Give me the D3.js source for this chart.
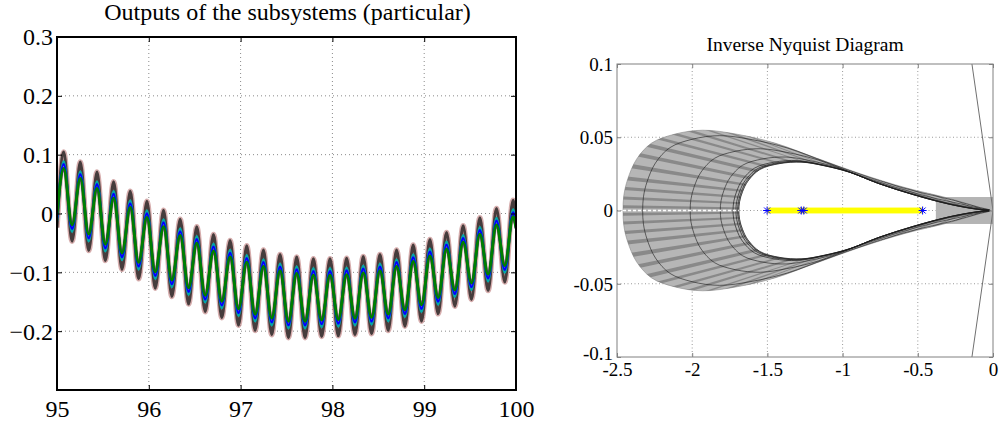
<!DOCTYPE html>
<html><head><meta charset="utf-8">
<script src="https://cdn.jsdelivr.net/npm/d3@7"></script>
<style>
body{margin:0;background:#fff}
svg{display:block}
text{font-family:'Liberation Serif','DejaVu Serif',serif;fill:#000}
</style>
</head><body>
<svg id="c" width="999" height="425"></svg>
<script>
// ---------------- LEFT CHART DATA ----------------
const leftTitle = "Outputs of the subsystems (particular)";
const leftXTicks = [95, 96, 97, 98, 99, 100];
const leftXLabels = ["95", "96", "97", "98", "99", "100"];
const leftYTicks = [0.3, 0.2, 0.1, 0, -0.1, -0.2];
const leftYLabels = ["0.3", "0.2", "0.1", "0", "\u22120.1", "\u22120.2"];

// times: start, the 55 successive peaks/troughs, end
const tVals = [95,
  95.073, 95.164, 95.254, 95.345, 95.436, 95.526, 95.617, 95.708, 95.798, 95.889,
  95.980, 96.070, 96.161, 96.251, 96.342, 96.433, 96.523, 96.614, 96.705, 96.795,
  96.886, 96.977, 97.067, 97.158, 97.249, 97.339, 97.430, 97.521, 97.611, 97.702,
  97.793, 97.883, 97.974, 98.064, 98.155, 98.246, 98.336, 98.427, 98.518, 98.608,
  98.699, 98.790, 98.880, 98.971, 99.062, 99.152, 99.243, 99.334, 99.424, 99.515,
  99.606, 99.696, 99.787, 99.878, 99.968,
  100];

const seriesDark = [-0.024,
  0.1045, -0.047, 0.0876, -0.063, 0.0706, -0.080, 0.054, -0.095, 0.038, -0.111,
  0.021, -0.127, 0.0056, -0.141, -0.0096, -0.154, -0.0226, -0.167, -0.0356, -0.177,
  -0.046, -0.190, -0.055, -0.199, -0.062, -0.206, -0.0695, -0.211, -0.074, -0.211,
  -0.077, -0.209, -0.077, -0.208, -0.076, -0.206, -0.073, -0.2045, -0.0695, -0.199,
  -0.062, -0.1915, -0.0537, -0.183, -0.0441, -0.1706, -0.0322, -0.1576, -0.0209, -0.146,
  -0.0073, -0.131, 0.0085, -0.1164, 0.0226,
  -0.016];

const seriesCyan = [-0.013,
  0.0885, -0.031, 0.0716, -0.047, 0.0546, -0.064, 0.038, -0.079, 0.022, -0.095,
  0.005, -0.111, -0.0104, -0.125, -0.0256, -0.138, -0.0386, -0.151, -0.0516, -0.161,
  -0.062, -0.174, -0.071, -0.183, -0.078, -0.190, -0.0855, -0.195, -0.090, -0.195,
  -0.093, -0.193, -0.093, -0.192, -0.092, -0.190, -0.089, -0.1885, -0.0855, -0.183,
  -0.078, -0.1755, -0.0697, -0.167, -0.0601, -0.1546, -0.0482, -0.1416, -0.0369, -0.130,
  -0.0233, -0.115, -0.0075, -0.1004, 0.0066,
  -0.020];

const seriesBlue = [-0.008,
  0.0835, -0.026, 0.0666, -0.042, 0.0496, -0.059, 0.033, -0.074, 0.017, -0.090,
  0.000, -0.106, -0.0154, -0.120, -0.0306, -0.133, -0.0436, -0.146, -0.0566, -0.156,
  -0.067, -0.169, -0.076, -0.178, -0.083, -0.185, -0.0905, -0.190, -0.095, -0.190,
  -0.098, -0.188, -0.098, -0.187, -0.097, -0.185, -0.094, -0.1835, -0.0905, -0.178,
  -0.083, -0.1705, -0.0747, -0.162, -0.0651, -0.1496, -0.0532, -0.1366, -0.0419, -0.125,
  -0.0283, -0.110, -0.0125, -0.0954, 0.0016,
  -0.022];

const seriesMagenta = [0.001,
  0.0725, -0.015, 0.0556, -0.031, 0.0386, -0.048, 0.022, -0.063, 0.006, -0.079,
  -0.011, -0.095, -0.0264, -0.109, -0.0416, -0.122, -0.0546, -0.135, -0.0676, -0.145,
  -0.078, -0.158, -0.087, -0.167, -0.094, -0.174, -0.1015, -0.179, -0.106, -0.179,
  -0.109, -0.177, -0.109, -0.176, -0.108, -0.174, -0.105, -0.1725, -0.1015, -0.167,
  -0.094, -0.1595, -0.0857, -0.151, -0.0761, -0.1386, -0.0642, -0.1256, -0.0529, -0.114,
  -0.0393, -0.099, -0.0235, -0.0844, -0.0094,
  -0.027];

const seriesGreen = [-0.002,
  0.0765, -0.019, 0.0596, -0.035, 0.0426, -0.052, 0.026, -0.067, 0.010, -0.083,
  -0.007, -0.099, -0.0224, -0.113, -0.0376, -0.126, -0.0506, -0.139, -0.0636, -0.149,
  -0.074, -0.162, -0.083, -0.171, -0.090, -0.178, -0.0975, -0.183, -0.102, -0.183,
  -0.105, -0.181, -0.105, -0.180, -0.104, -0.178, -0.101, -0.1765, -0.0975, -0.171,
  -0.090, -0.1635, -0.0817, -0.155, -0.0721, -0.1426, -0.0602, -0.1296, -0.0489, -0.118,
  -0.0353, -0.103, -0.0195, -0.0884, -0.0054,
  -0.025];

// ---------------- RIGHT CHART DATA ----------------
const rightTitle = "Inverse Nyquist Diagram";
const rightXTicks = [-2.5, -2, -1.5, -1, -0.5, 0];
const rightXLabels = ["-2.5", "-2", "-1.5", "-1", "-0.5", "0"];
const rightYTicks = [0.1, 0.05, 0, -0.05, -0.1];
const rightYLabels = ["0.1", "0.05", "0", "-0.05", "-0.1"];

// upper half of the uncertainty band (mirrored for the lower half), same frequency index
const outerX = [-2.46, -2.455, -2.43, -2.37, -2.27, -2.12, -1.93, -1.70, -1.45, -1.18, -0.88, -0.58, -0.30, -0.10, -0.02];
const outerY = [0, 0.010, 0.021, 0.035, 0.046, 0.052, 0.0548, 0.052, 0.046, 0.036, 0.025, 0.0155, 0.0085, 0.0025, 0];
const innerX = [-1.69, -1.685, -1.665, -1.63, -1.55, -1.42, -1.27, -1.12, -0.95, -0.75, -0.52, -0.30, -0.15, -0.06, -0.02];
const innerY = [0, 0.006, 0.013, 0.020, 0.028, 0.032, 0.033, 0.0305, 0.026, 0.018, 0.0105, 0.0045, 0.0015, 0.0003, 0];
// relative positions (outer=0, inner=1) of the black frequency-response curves
const contourLevels = [0.17, 0.58, 0.84, 0.95, 0.975, 0.99, 1.0];
// gray bar near the origin
const tipBarX = [-0.38, 0];
const tipBarHalf = 0.0092;
// yellow segment and blue star markers on the real axis
const yellowX = [-1.5, -0.47];
const yellowHalf = 0.002;
const starX = [-1.502, -1.275, -1.258, -0.468];
// thin gray V-shaped line at the right
const vLineX = [-0.14, 0, -0.14];
const vLineY = [0.1, 0, -0.1];

// ================= DRAWING =================
const svg = d3.select("#c");
const FONT = "'Liberation Serif','DejaVu Serif',serif";

// ---------- LEFT ----------
const L = {x0: 57, x1: 516, y0: 37, y1: 390};
const xL = d3.scaleLinear().domain([95, 100]).range([L.x0, L.x1]);
const yL = d3.scaleLinear().domain([-0.3, 0.3]).range([L.y1, L.y0]);
const gL = svg.append("g");

gL.append("g").selectAll("line").data(leftXTicks.filter(v => v > 95 && v < 100)).join("line")
  .attr("x1", d => xL(d)).attr("x2", d => xL(d)).attr("y1", L.y0).attr("y2", L.y1)
  .attr("stroke", "#8a8a8a").attr("stroke-width", 1).attr("stroke-dasharray", "1,3");
gL.append("g").selectAll("line").data(leftYTicks.filter(v => v > -0.3 && v < 0.3)).join("line")
  .attr("y1", d => yL(d)).attr("y2", d => yL(d)).attr("x1", L.x0).attr("x2", L.x1)
  .attr("stroke", "#8a8a8a").attr("stroke-width", 1).attr("stroke-dasharray", "1,3");

svg.append("clipPath").attr("id", "clipL").append("rect")
  .attr("x", L.x0).attr("y", L.y0).attr("width", L.x1 - L.x0).attr("height", L.y1 - L.y0);

const lineL = d3.line().x((d, i) => xL(tVals[i])).y(d => yL(d)).curve(d3.curveMonotoneX);
const gLines = gL.append("g").attr("clip-path", "url(#clipL)");
const drawSeries = (arr, color, w, op) => gLines.append("path").attr("d", lineL(arr))
  .attr("fill", "none").attr("stroke", color).attr("stroke-width", w)
  .attr("stroke-opacity", op).attr("stroke-linejoin", "round");
drawSeries(seriesDark, "#c48a8a", 5.5, 0.7);
drawSeries(seriesDark, "#463c3c", 3, 1);
drawSeries(seriesCyan, "#00a8a8", 2.5, 1);
drawSeries(seriesMagenta, "#cc00cc", 2, 1);
drawSeries(seriesBlue, "#0000ff", 2.5, 1);
drawSeries(seriesGreen, "#007f00", 3, 1);

// axes (ticks inside)
function styleAxis(g) {
  g.select(".domain").remove();
  g.attr("font-family", null).attr("font-size", null);
  g.selectAll(".tick line").attr("stroke", "#000");
}
gL.append("g").attr("transform", `translate(0,${L.y1})`)
  .call(d3.axisBottom(xL).tickValues(leftXTicks).tickFormat((d, i) => leftXLabels[i]).tickSizeInner(-5).tickSizeOuter(0))
  .call(styleAxis)
  .call(g => g.selectAll("text").attr("y", 27).attr("dy", null).style("font-size", "24px").style("font-family", FONT));
gL.append("g").attr("transform", `translate(0,${L.y0})`)
  .call(d3.axisTop(xL).tickValues(leftXTicks).tickFormat("").tickSizeInner(-5).tickSizeOuter(0))
  .call(styleAxis);
gL.append("g").attr("transform", `translate(${L.x0},0)`)
  .call(d3.axisLeft(yL).tickValues(leftYTicks).tickFormat((d, i) => leftYLabels[i]).tickSizeInner(-5).tickSizeOuter(0))
  .call(styleAxis)
  .call(g => g.selectAll("text").attr("x", -4).attr("dy", "0.33em").style("font-size", "24px").style("font-family", FONT));
gL.append("g").attr("transform", `translate(${L.x1},0)`)
  .call(d3.axisRight(yL).tickValues(leftYTicks).tickFormat("").tickSizeInner(-5).tickSizeOuter(0))
  .call(styleAxis);
gL.append("rect").attr("x", L.x0).attr("y", L.y0).attr("width", L.x1 - L.x0).attr("height", L.y1 - L.y0)
  .attr("fill", "none").attr("stroke", "#000").attr("stroke-width", 2);
gL.append("text").attr("x", (L.x0 + L.x1) / 2 + 1).attr("y", 20).attr("text-anchor", "middle")
  .style("font-size", "24px").style("font-family", FONT).text(leftTitle);

// ---------- RIGHT ----------
const R = {x0: 617, x1: 993, y0: 64, y1: 357};
const xR = d3.scaleLinear().domain([-2.5, 0]).range([R.x0, R.x1]);
const yR = d3.scaleLinear().domain([-0.1, 0.1]).range([R.y1, R.y0]);
const gR = svg.append("g");

gR.append("g").selectAll("line").data(rightXTicks.filter(v => v > -2.5 && v < 0)).join("line")
  .attr("x1", d => xR(d)).attr("x2", d => xR(d)).attr("y1", R.y0).attr("y2", R.y1)
  .attr("stroke", "#9a9a9a").attr("stroke-width", 1).attr("stroke-dasharray", "1,2.5");
gR.append("g").selectAll("line").data(rightYTicks.filter(v => v > -0.1 && v < 0.1)).join("line")
  .attr("y1", d => yR(d)).attr("y2", d => yR(d)).attr("x1", R.x0).attr("x2", R.x1)
  .attr("stroke", "#9a9a9a").attr("stroke-width", 1).attr("stroke-dasharray", "1,2.5");

svg.append("clipPath").attr("id", "clipR").append("rect")
  .attr("x", R.x0).attr("y", R.y0).attr("width", R.x1 - R.x0).attr("height", R.y1 - R.y0);
const gP = gR.append("g").attr("clip-path", "url(#clipR)");

const outerPts = outerX.map((x, i) => [x, outerY[i]]);
const innerPts = innerX.map((x, i) => [x, innerY[i]]);
const loop = pts => pts.concat(pts.slice(1, -1).reverse().map(([x, y]) => [x, -y]));
const lineR = d3.line().x(d => xR(d[0])).y(d => yR(d[1])).curve(d3.curveCatmullRomClosed.alpha(0.5));
const bandD = lineR(loop(outerPts)) + lineR(loop(innerPts));

// gray bar at the tip
gP.append("rect").attr("x", xR(tipBarX[0])).attr("width", xR(tipBarX[1]) - xR(tipBarX[0]))
  .attr("y", yR(tipBarHalf)).attr("height", yR(-tipBarHalf) - yR(tipBarHalf)).attr("fill", "#b4b4b4");

// band fill
gP.append("path").attr("d", bandD).attr("fill", "#b6b6b6").attr("fill-rule", "evenodd")
  .attr("stroke", "#8a8a8a").attr("stroke-width", 0.6);

// stripes (clipped to band)
svg.append("clipPath").attr("id", "clipBand").append("path").attr("d", bandD).attr("clip-rule", "evenodd");
const lerp = (arr, s) => {
  const i = Math.min(Math.floor(s), arr.length - 2), f = s - i;
  return [arr[i][0] + f * (arr[i + 1][0] - arr[i][0]), arr[i][1] + f * (arr[i + 1][1] - arr[i][1])];
};
const ext = (a, b, k) => [a[0] + k * (a[0] - b[0]), a[1] + k * (a[1] - b[1])];
const gS = gP.append("g").attr("clip-path", "url(#clipBand)");
const stripePolys = [];
d3.range(0.15, outerPts.length - 1.2, 0.6).forEach(s => {
  const s2 = s + 0.2;
  const o1 = lerp(outerPts, s), o2 = lerp(outerPts, s2), i1 = lerp(innerPts, s), i2 = lerp(innerPts, s2);
  const poly = [ext(o1, i1, 0.2), ext(o2, i2, 0.2), ext(i2, o2, 0.05), ext(i1, o1, 0.05)];
  stripePolys.push(poly);
  stripePolys.push(poly.map(([x, y]) => [x, -y]));
});
gS.selectAll("path").data(stripePolys).join("path")
  .attr("d", p => "M" + p.map(q => xR(q[0]) + "," + yR(q[1])).join("L") + "Z")
  .attr("fill", "#7a7a7a").attr("fill-opacity", 0.75);

// black frequency-response contours
contourLevels.forEach(t => {
  const pts = outerPts.map((p, i) => [p[0] + t * (innerPts[i][0] - p[0]), p[1] + t * (innerPts[i][1] - p[1])]);
  gP.append("path").attr("d", lineR(loop(pts))).attr("fill", "none")
    .attr("stroke", "#1a1a1a").attr("stroke-width", t > 0.9 ? 0.8 : 0.7).attr("stroke-opacity", 0.85);
});

// white dotted axis line through the band
gP.append("line").attr("x1", xR(outerX[0])).attr("x2", xR(innerX[0])).attr("y1", yR(0)).attr("y2", yR(0))
  .attr("stroke", "#ffffff").attr("stroke-width", 1.3).attr("stroke-dasharray", "3,2");

// yellow segment
gP.append("rect").attr("x", xR(yellowX[0])).attr("width", xR(yellowX[1]) - xR(yellowX[0]))
  .attr("y", yR(yellowHalf)).attr("height", yR(-yellowHalf) - yR(yellowHalf)).attr("fill", "#ffff00");

// blue stars
const starG = gP.append("g").selectAll("g").data(starX).join("g")
  .attr("transform", d => `translate(${xR(d)},${yR(0)})`);
const a = 4, b = 3;
starG.append("path").attr("d", `M${-a},0H${a}M0,${-a}V${a}M${-b},${-b}L${b},${b}M${-b},${b}L${b},${-b}`)
  .attr("stroke", "#0000ff").attr("stroke-width", 1).attr("fill", "none");

// thin V line
gP.append("path").attr("d", d3.line().x(d => xR(d[0])).y(d => yR(d[1]))(vLineX.map((x, i) => [x, vLineY[i]])))
  .attr("fill", "none").attr("stroke", "#707070").attr("stroke-width", 1);

// axes
function styleAxisR(g) {
  g.select(".domain").remove();
  g.attr("font-family", null).attr("font-size", null);
  g.selectAll(".tick line").attr("stroke", "#808080");
}
gR.append("g").attr("transform", `translate(0,${R.y1})`)
  .call(d3.axisBottom(xR).tickValues(rightXTicks).tickFormat((d, i) => rightXLabels[i]).tickSizeInner(-4).tickSizeOuter(0))
  .call(styleAxisR)
  .call(g => g.selectAll("text").attr("y", 19).attr("dy", null).style("font-size", "19px").style("font-family", FONT));
gR.append("g").attr("transform", `translate(0,${R.y0})`)
  .call(d3.axisTop(xR).tickValues(rightXTicks).tickFormat("").tickSizeInner(-4).tickSizeOuter(0))
  .call(styleAxisR);
gR.append("g").attr("transform", `translate(${R.x0},0)`)
  .call(d3.axisLeft(yR).tickValues(rightYTicks).tickFormat((d, i) => rightYLabels[i]).tickSizeInner(-4).tickSizeOuter(0))
  .call(styleAxisR)
  .call(g => g.selectAll("text").attr("x", -4).attr("dy", (d, i) => i === rightYTicks.length - 1 ? "0.12em" : "0.33em")
    .style("font-size", "19px").style("font-family", FONT));
gR.append("g").attr("transform", `translate(${R.x1},0)`)
  .call(d3.axisRight(yR).tickValues(rightYTicks).tickFormat("").tickSizeInner(-4).tickSizeOuter(0))
  .call(styleAxisR);
gR.append("rect").attr("x", R.x0).attr("y", R.y0).attr("width", R.x1 - R.x0).attr("height", R.y1 - R.y0)
  .attr("fill", "none").attr("stroke", "#808080").attr("stroke-width", 1);
gR.append("text").attr("x", (R.x0 + R.x1) / 2).attr("y", 51).attr("text-anchor", "middle")
  .style("font-size", "19.5px").style("font-family", FONT).text(rightTitle);
</script>
</body></html>
